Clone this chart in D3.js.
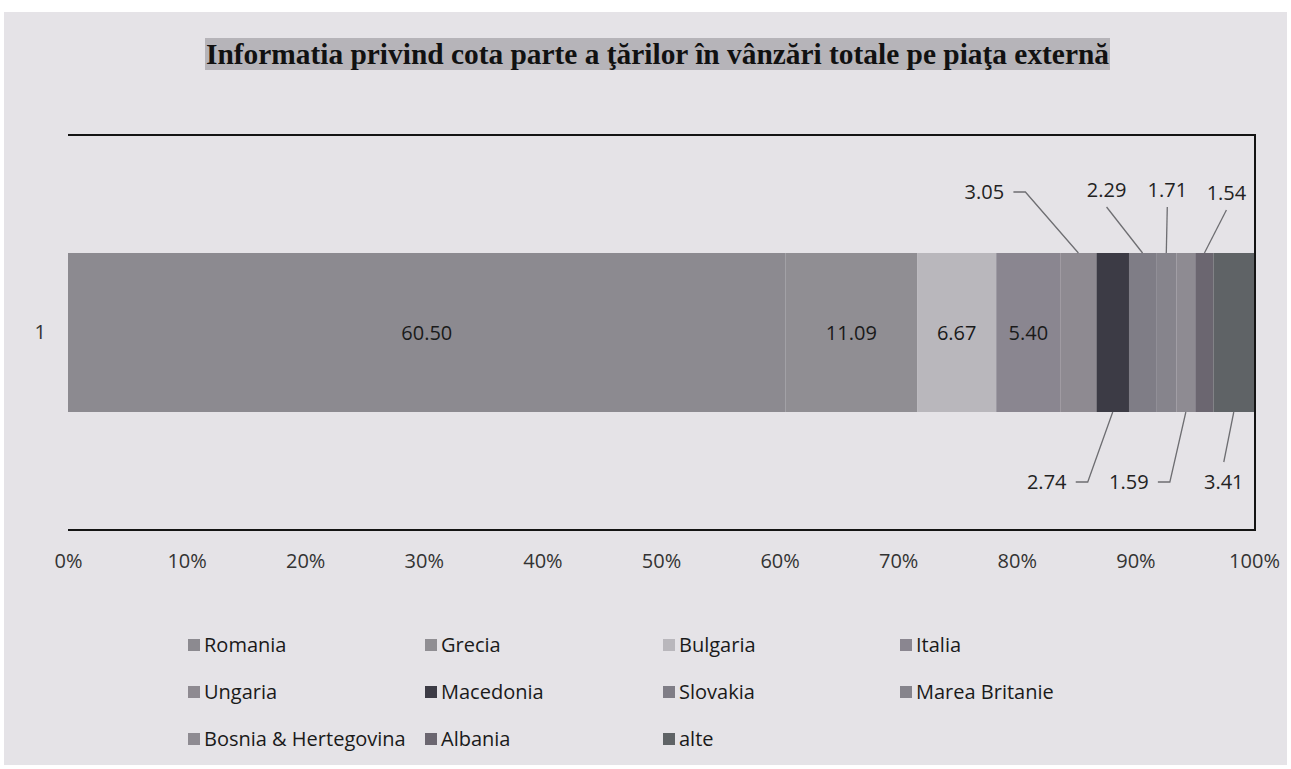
<!DOCTYPE html>
<html>
<head>
<meta charset="utf-8">
<script src="https://cdn.jsdelivr.net/npm/d3@7"></script>
<style>
body { margin: 0; background: #fff; }
svg text { font-family: "Open Sans", sans-serif; }
</style>
</head>
<body>
<svg id="chart"></svg>
<script>
// data
var categories = ['1'];
var countries = ['Romania', 'Grecia', 'Bulgaria', 'Italia', 'Ungaria', 'Macedonia',
	'Slovakia', 'Marea Britanie', 'Bosnia & Hertegovina', 'Albania', 'alte'];
var shares = [60.50, 11.09, 6.67, 5.40, 3.05, 2.74, 2.29, 1.71, 1.59, 1.54, 3.41];
var xTicks = [0, 0.1, 0.2, 0.3, 0.4, 0.5, 0.6, 0.7, 0.8, 0.9, 1];

// scanned greys
var colors = ['#8c8a90', '#908e93', '#b9b7bc', '#8a8690', '#8e8a91', '#3c3b45',
	'#7f7d86', '#86848c', '#8e8b92', '#6b6670', '#5f6366'];

// where the small labels sit, relative to the middle of their segment
var outside = {
	'Ungaria': {dx: -94, dy: -61, from: 'right'},
	'Macedonia': {dx: -66, dy: 70, from: 'right'},
	'Slovakia': {dx: -36, dy: -63, from: 'bottom'},
	'Marea Britanie': {dx: 1, dy: -63, from: 'bottom'},
	'Bosnia & Hertegovina': {dx: -57, dy: 70, from: 'right'},
	'Albania': {dx: 22, dy: -60, from: 'bottom'},
	'alte': {dx: -10, dy: 70, from: 'top'}
};

var width = 1291;
var height = 769;
var margin = {top: 135, right: 36, bottom: 239, left: 68};
var widthInner = width - margin.left - margin.right;
var heightInner = height - margin.top - margin.bottom;

var svg = d3.select('#chart')
	.attr('width', width)
	.attr('height', height);

// chart area (scanned paper)
svg.append('rect')
	.attr('x', 4)
	.attr('y', 12)
	.attr('width', 1283)
	.attr('height', 753)
	.attr('fill', '#e5e3e7');

/****************************
 * title
 ****************************/
svg.append('rect')
	.attr('x', 205)
	.attr('y', 38)
	.attr('width', 905)
	.attr('height', 32)
	.attr('fill', '#b6b4b9');

svg.append('text')
	.attr('x', 206)
	.attr('y', 64)
	.attr('textLength', 903)
	.attr('lengthAdjust', 'spacingAndGlyphs')
	.style('font-family', '"Liberation Serif", serif')
	.style('font-weight', 'bold')
	.style('font-size', '29px')
	.attr('fill', '#111')
	.text('Informatia privind cota parte a ţărilor în vânzări totale pe piaţa externă');

/****************************
 * bar
 ****************************/
var row = {cat: categories[0]};
countries.forEach(function(c, i) { row[c] = shares[i]; });
var series = d3.stack().keys(countries).offset(d3.stackOffsetExpand)([row]);

var g = svg.append('g')
	.attr('transform', 'translate(' + margin.left + ',' + margin.top + ')');

var x = d3.scaleLinear()
	.range([0, widthInner - 1])
	.domain([0, 1]);

var y = d3.scaleBand()
	.range([0, heightInner])
	.padding(0.426)
	.domain(categories);

var xAxis = d3.axisBottom(x).tickValues(xTicks).tickFormat(d3.format('.0%')).tickSize(0).tickPadding(24);
var yAxis = d3.axisLeft(y).tickSize(0).tickPadding(22);

var gx = g.append('g')
	.attr('transform', 'translate(0,' + heightInner + ')')
	.call(xAxis);
gx.select('.domain').remove();
gx.selectAll('text')
	.style('font-size', '20px')
	.attr('fill', '#333');

var gy = g.append('g').call(yAxis);
gy.select('.domain').remove();
gy.selectAll('text')
	.style('font-size', '20px')
	.attr('fill', '#333');

g.selectAll('rect.bar')
	.data(series)
	.enter().append('rect')
	.attr('class', 'bar')
	.attr('x', function(d) { return x(d[0][0]); })
	.attr('y', function(d) { return y(d[0].data.cat); })
	.attr('width', function(d) { return x(d[0][1]) - x(d[0][0]); })
	.attr('height', y.bandwidth())
	.attr('fill', function(d, i) { return colors[i]; });

// frame: top, bottom, right
g.append('path')
	.attr('d', 'M0,0H' + widthInner + 'V' + heightInner + 'H0')
	.attr('fill', 'none')
	.attr('stroke', '#141414')
	.attr('stroke-width', 2);

/****************************
 * data labels
 ****************************/
var barTop = y(categories[0]);
var barBottom = barTop + y.bandwidth();

g.selectAll('text.inlabel')
	.data(series.filter(function(d) { return !outside[d.key]; }))
	.enter().append('text')
	.attr('class', 'inlabel')
	.attr('x', function(d) { return x((d[0][0] + d[0][1]) / 2); })
	.attr('y', barTop + y.bandwidth() / 2)
	.attr('dy', '0.35em')
	.attr('text-anchor', 'middle')
	.style('font-size', '20px')
	.attr('fill', '#1a1a1a')
	.text(function(d) { return d3.format('.2f')(d[0].data[d.key]); });

var outSeries = series.filter(function(d) { return outside[d.key]; });

function labelPos(d) {
	var o = outside[d.key];
	var cx = x((d[0][0] + d[0][1]) / 2);
	var ey = o.dy < 0 ? barTop : barBottom;
	return {cx: cx, ey: ey, lx: cx + o.dx, ly: ey + o.dy, from: o.from};
}

g.selectAll('path.leader')
	.data(outSeries)
	.enter().append('path')
	.attr('class', 'leader')
	.attr('fill', 'none')
	.attr('stroke', '#6e6e72')
	.attr('stroke-width', 1.3)
	.attr('d', function(d) {
		var p = labelPos(d);
		if (p.from == 'right') {
			return 'M' + (p.lx + 29) + ',' + p.ly + 'L' + (p.lx + 41) + ',' + p.ly + 'L' + p.cx + ',' + p.ey;
		}
		if (p.from == 'bottom') {
			return 'M' + p.lx + ',' + (p.ly + 17) + 'L' + p.cx + ',' + p.ey;
		}
		return 'M' + p.lx + ',' + (p.ly - 20) + 'L' + p.cx + ',' + p.ey;
	});

g.selectAll('text.outlabel')
	.data(outSeries)
	.enter().append('text')
	.attr('class', 'outlabel')
	.attr('x', function(d) { return labelPos(d).lx; })
	.attr('y', function(d) { return labelPos(d).ly; })
	.attr('dy', '0.35em')
	.attr('text-anchor', 'middle')
	.style('font-size', '20px')
	.attr('fill', '#222')
	.text(function(d) { return d3.format('.2f')(d[0].data[d.key]); });

/****************************
 * legend
 ****************************/
var legendCols = [188, 425, 663, 900];
var legendRows = [645, 692, 739];

var legend = svg.selectAll('g.legend')
	.data(countries)
	.enter().append('g')
	.attr('class', 'legend')
	.attr('transform', function(d, i) {
		return 'translate(' + legendCols[i % 4] + ',' + legendRows[Math.floor(i / 4)] + ')';
	});

legend.append('rect')
	.attr('x', 0)
	.attr('y', -6)
	.attr('width', 12)
	.attr('height', 12)
	.attr('fill', function(d, i) { return colors[i]; });

legend.append('text')
	.attr('x', 16)
	.attr('dy', '0.35em')
	.style('font-size', '20px')
	.attr('fill', '#1a1a1a')
	.text(function(d) { return d; });
</script>
</body>
</html>
